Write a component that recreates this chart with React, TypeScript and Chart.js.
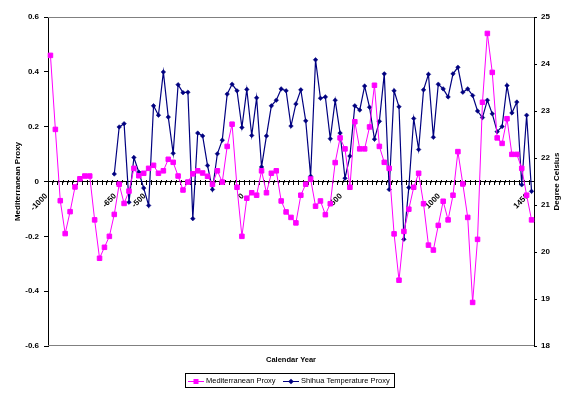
import React, { useEffect, useRef } from 'react';
import { Chart, registerables } from 'chart.js';

Chart.register(...registerables);

const YEARS = [
  -1000, -975, -950, -925, -900, -875, -850, -825, -800, -775, -750, -725, -700, -675, -650, -625, -600, -575, -550, -525,
  -500, -475, -450, -425, -400, -375, -350, -325, -300, -275, -250, -225, -200, -175, -150, -125, -100, -75, -50, -25,
  0, 25, 50, 75, 100, 125, 150, 175, 200, 225, 250, 275, 300, 325, 350, 375, 400, 425, 450, 475,
  500, 525, 550, 575, 600, 625, 650, 675, 700, 725, 750, 775, 800, 825, 850, 875, 900, 925, 950, 975,
  1000, 1025, 1050, 1075, 1100, 1125, 1150, 1175, 1200, 1225, 1250, 1275, 1300, 1325, 1350, 1375, 1400, 1425, 1450,
];

const TICK_LABELS = ['-1000', '-650', '-500', '0', '500', '1000', '1450'];

const MEDITERRANEAN = [
  0.46, 0.19, -0.07, -0.19, -0.11, -0.02, 0.01, 0.02, 0.02, -0.14,
  -0.28, -0.24, -0.2, -0.12, -0.01, -0.08, -0.035, 0.048, 0.021, 0.03,
  0.048, 0.059, 0.03, 0.039, 0.081, 0.07, 0.02, -0.031, -0.002, 0.028,
  0.039, 0.031, 0.019, -0.01, 0.039, -0.002, 0.128, 0.209, -0.021, -0.2,
  -0.061, -0.041, -0.05, 0.039, -0.041, 0.03, 0.039, -0.071, -0.111, -0.131,
  -0.151, -0.05, -0.01, 0.009, -0.09, -0.071, -0.121, -0.081, 0.069, 0.159,
  0.119, -0.021, 0.218, 0.119, 0.119, 0.199, 0.351, 0.128, 0.07, 0.048,
  -0.191, -0.36, -0.182, -0.101, -0.021, 0.03, -0.081, -0.232, -0.25, -0.16,
  -0.072, -0.14, -0.05, 0.109, -0.009, -0.131, -0.441, -0.211, 0.289, 0.54,
  0.398, 0.159, 0.139, 0.229, 0.099, 0.099, 0.048, -0.05, -0.14,
];

const SHIHUA = [
  null, null, null, null, null, null, null, null, null, null, null, null, null,
  21.66, 22.66, 22.73, 21.06, 22.01, 21.7, 21.36, 20.99, 23.11, 22.91,
  23.83, 22.87, 22.1, 23.56, 23.39, 23.4, 20.71, 22.53, 22.47, 21.84,
  21.33, 22.09, 22.38, 23.36, 23.57, 23.43, 22.65, 23.46, 22.48, 23.28,
  21.81, 22.47, 23.11, 23.23, 23.47, 23.43, 22.68, 23.15, 23.45, 22.79,
  21.61, 24.09, 23.27, 23.3, 22.41, 23.23, 22.53, 21.57, 22.04, 23.11,
  23.02, 23.53, 23.08, 22.4, 22.78, 23.79, 21.33, 23.43, 23.09, 20.27,
  21.37, 22.84, 22.18, 23.45, 23.78, 22.44, 23.57, 23.47, 23.3, 23.79,
  23.93, 23.4, 23.47, 23.33, 23.0, 22.86, 23.23, 22.94, 22.56, 22.67,
  23.54, 22.96, 23.19, 21.43, 22.91, 21.29,
];

const SERIES_NAMES = ['Mediterranean Proxy', 'Shihua Temperature Proxy'];
const SERIES_COLORS = ['#FF00FF', '#000080'];
const X_TITLE = 'Calendar Year';
const Y_TITLE = 'Mediterranean Proxy';
const Y2_TITLE = 'Degree Celsius';

const FONT = 'Arial, "Liberation Sans", sans-serif';

const decorPlugin = {
  id: 'excelDecor',
  beforeDatasetsDraw(chart: any) {
    const { ctx, chartArea } = chart;
    ctx.save();
    ctx.strokeStyle = '#808080';
    ctx.lineWidth = 1;
    ctx.beginPath();
    ctx.moveTo(chartArea.left, Math.round(chartArea.top) + 0.5);
    ctx.lineTo(chartArea.right, Math.round(chartArea.top) + 0.5);
    ctx.moveTo(chartArea.left, Math.round(chartArea.bottom) - 0.5);
    ctx.lineTo(chartArea.right, Math.round(chartArea.bottom) - 0.5);
    ctx.stroke();
    // upper half of the cross tick marks on the category axis
    const xs = chart.scales.x;
    const y0 = Math.round(chart.scales.y.getPixelForValue(0)) + 0.5;
    const n = YEARS.length;
    const w = (xs.right - xs.left) / n;
    ctx.strokeStyle = '#000';
    ctx.beginPath();
    for (let i = 0; i <= n; i++) {
      const x = Math.round(xs.left + i * w) + 0.5;
      ctx.moveTo(x, y0 - 2.5);
      ctx.lineTo(x, y0);
    }
    ctx.stroke();
    ctx.restore();
  },
  afterDraw(chart: any) {
    const { ctx, chartArea } = chart;
    ctx.save();
    ctx.fillStyle = '#000';
    // x title
    ctx.font = `bold 7.5px ${FONT}`;
    ctx.textAlign = 'center';
    ctx.textBaseline = 'middle';
    ctx.fillText(X_TITLE, (chartArea.left + chartArea.right) / 2, 360);
    // right title (reads bottom to top)
    ctx.font = `bold 8px ${FONT}`;
    ctx.save();
    ctx.translate(557, (chartArea.top + chartArea.bottom) / 2);
    ctx.rotate(-Math.PI / 2);
    ctx.fillText(Y2_TITLE, 0, 0);
    ctx.restore();

    // legend
    const boxL = 185.5, boxT = 373.5, boxW = 209, boxH = 14;
    const cy = boxT + boxH / 2;
    ctx.strokeStyle = '#000';
    ctx.lineWidth = 1;
    ctx.strokeRect(boxL, boxT, boxW, boxH);
    ctx.font = `7.5px ${FONT}`;
    ctx.textAlign = 'left';
    const items = [
      { x: 188, style: 'rect' },
      { x: 283, style: 'rectRot' },
    ];
    items.forEach((it, i) => {
      ctx.strokeStyle = SERIES_COLORS[i];
      ctx.fillStyle = SERIES_COLORS[i];
      ctx.lineWidth = 1;
      ctx.beginPath();
      ctx.moveTo(it.x, Math.round(cy) + 0.5);
      ctx.lineTo(it.x + 16, Math.round(cy) + 0.5);
      ctx.stroke();
      const mx = it.x + 8;
      const my = Math.round(cy) + 0.5;
      ctx.beginPath();
      if (it.style === 'rect') {
        ctx.rect(mx - 2.5, my - 2.5, 5, 5);
      } else {
        ctx.moveTo(mx, my - 2.8);
        ctx.lineTo(mx + 2.8, my);
        ctx.lineTo(mx, my + 2.8);
        ctx.lineTo(mx - 2.8, my);
        ctx.closePath();
      }
      ctx.fill();
      ctx.fillStyle = '#000';
      ctx.fillText(SERIES_NAMES[i], it.x + 18, cy + 0.5);
    });
    ctx.restore();
  },
};

export default function App() {
  const ref = useRef<HTMLCanvasElement | null>(null);

  useEffect(() => {
    document.body.style.margin = '0';
    const canvas = ref.current;
    if (!canvas) return;
    Chart.defaults.font.family = FONT;
    Chart.defaults.color = '#000';

    const chart = new Chart(canvas, {
      type: 'line',
      data: {
        labels: YEARS.map(String),
        datasets: [
          {
            label: SERIES_NAMES[0],
            data: MEDITERRANEAN,
            yAxisID: 'y',
            borderColor: SERIES_COLORS[0],
            backgroundColor: SERIES_COLORS[0],
            borderWidth: 1,
            pointStyle: 'rect',
            pointRadius: 3.2,
            pointBorderWidth: 1,
            tension: 0,
          },
          {
            label: SERIES_NAMES[1],
            data: SHIHUA,
            yAxisID: 'y2',
            borderColor: SERIES_COLORS[1],
            backgroundColor: SERIES_COLORS[1],
            borderWidth: 1.2,
            pointStyle: 'rectRot',
            pointRadius: 2.3,
            pointBorderWidth: 0.5,
            tension: 0,
          },
        ],
      },
      options: {
        responsive: false,
        animation: false,
        layout: { padding: { top: 17, bottom: 47, left: 0, right: 0 } },
        plugins: {
          legend: { display: false },
          tooltip: { enabled: false },
        },
        scales: {
          x: {
            type: 'category',
            offset: true,
            position: { y: 0 } as any,
            grid: {
              display: true,
              drawOnChartArea: false,
              drawTicks: true,
              tickLength: 3,
              tickColor: '#000',
              color: '#000',
              offset: true,
            },
            border: { display: true, color: '#000', width: 1 },
            ticks: {
              autoSkip: false,
              minRotation: 45,
              maxRotation: 45,
              padding: 7,
              labelOffset: -4,
              color: '#000',
              font: { size: 8, weight: 'bold' },
              callback: (_v: any, idx: number) => {
                const s = String(YEARS[idx]);
                return TICK_LABELS.includes(s) ? s : '';
              },
            },
          },
          y: {
            position: 'left',
            min: -0.6,
            max: 0.6,
            grid: { drawOnChartArea: false, tickLength: 4, tickColor: '#000', color: '#000' },
            border: { display: true, color: '#000', width: 1 },
            ticks: {
              stepSize: 0.2,
              padding: 5,
              color: '#000',
              font: { size: 8, weight: 'bold' },
              callback: (v: any) => (Math.abs(v) < 1e-9 ? '0' : Number(v).toFixed(1)),
            },
            title: {
              display: true,
              text: Y_TITLE,
              color: '#000',
              font: { size: 8, weight: 'bold' },
              padding: { top: 13, bottom: 0 },
            },
            afterFit: (s: any) => {
              s.width = 48;
            },
          },
          y2: {
            position: 'right',
            min: 18,
            max: 25,
            grid: { drawOnChartArea: false, tickLength: 3, tickColor: '#000', color: '#000' },
            border: { display: true, color: '#000', width: 1 },
            ticks: {
              stepSize: 1,
              padding: 4,
              color: '#000',
              font: { size: 8, weight: 'bold' },
            },
            afterFit: (s: any) => {
              s.width = 42;
            },
          },
        },
      },
      plugins: [decorPlugin],
    } as any);

    return () => chart.destroy();
  }, []);

  return (
    <div style={{ width: 576, height: 393, background: '#fff' }}>
      <canvas ref={ref} width={576} height={393} style={{ display: 'block' }} />
    </div>
  );
}
